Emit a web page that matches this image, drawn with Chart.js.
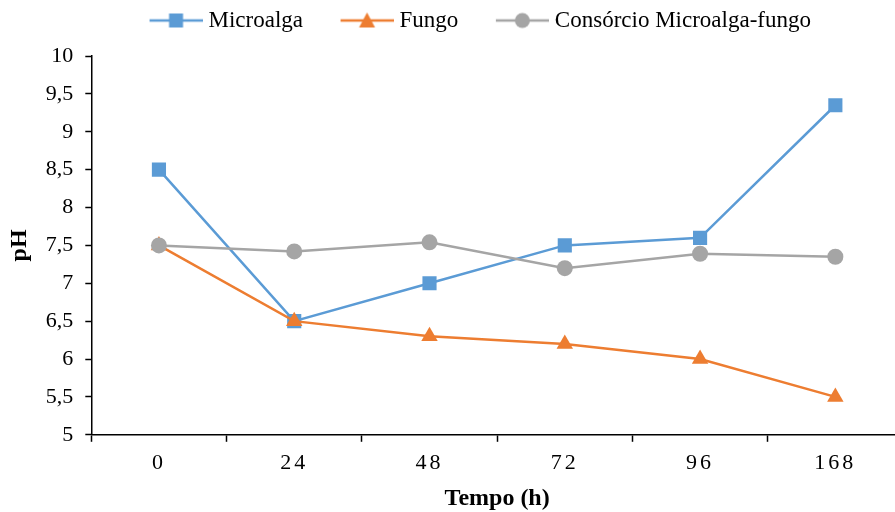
<!DOCTYPE html>
<html>
<head>
<meta charset="utf-8">
<script src="https://cdn.jsdelivr.net/npm/chart.js@4"></script>
<style>
  html, body { margin: 0; padding: 0; background: #fff; overflow: hidden; }
  #chart { display: block; }
</style>
</head>
<body>
<canvas id="chart" width="913" height="512"></canvas>
<script>
// pH over time for the three cultures
var tempos = ['0', '24', '48', '72', '96', '168'];
var microalga = [8.5, 6.5, 7.0, 7.5, 7.6, 9.35];
var fungo = [7.5, 6.5, 6.3, 6.2, 6.0, 5.5];
var consorcio = [7.5, 7.42, 7.54, 7.2, 7.39, 7.35];

var azul = '#5B9BD5';
var laranja = '#ED7D31';
var cinza = '#A5A5A5';
var fonte = '"Liberation Serif", "Times New Roman", serif';

// legend picture: empty lead-in, then a short line with the marker on it
var ICON_W = 87, ICON_H = 18;
function legendIcon(color, style) {
    var c = document.createElement('canvas');
    c.width = ICON_W; c.height = ICON_H;
    var ctx = c.getContext('2d');
    ctx.strokeStyle = color;
    ctx.lineWidth = 2.5;
    ctx.beginPath();
    ctx.moveTo(34, 9); ctx.lineTo(87, 9);
    ctx.stroke();
    ctx.fillStyle = color;
    ctx.beginPath();
    var cx = 60.5;
    if (style === 'rect') {
        ctx.rect(cx - 7, 2, 14, 14);
    } else if (style === 'triangle') {
        ctx.moveTo(cx, 1); ctx.lineTo(cx + 8, 16); ctx.lineTo(cx - 8, 16); ctx.closePath();
    } else {
        ctx.arc(cx, 9, 7.5, 0, Math.PI * 2);
    }
    ctx.fill();
    return c;
}

// later series are painted over earlier ones
function serie(label, data, color, style, radius, order) {
    return {
        label: label,
        data: data,
        order: order,
        borderColor: color,
        backgroundColor: color,
        borderWidth: 2.5,
        pointStyle: style,
        pointRadius: radius,
        pointHoverRadius: radius,
        pointBorderWidth: 0,
        tension: 0,
        icon: legendIcon(color, style)
    };
}

// wider letter spacing on the time labels
var espacamento = {
    id: 'espacamento',
    beforeDraw: function(chart) {
        var s = chart.scales.x;
        if (s._espaco) return;
        var orig = s.drawLabels;
        s.drawLabels = function(area) {
            var c = this.ctx;
            c.save();
            c.letterSpacing = '3px';
            orig.call(this, area);
            c.restore();
        };
        s._espaco = true;
    }
};

// more room under the legend, and nudge it a little to the right
var legendaAjuste = {
    id: 'legendaAjuste',
    beforeInit: function(chart) {
        var fitOrig = chart.legend.fit;
        chart.legend.fit = function() {
            fitOrig.bind(chart.legend)();
            this.height += 14;
        };
    },
    afterLayout: function(chart) {
        chart.legend.left += 9;
        chart.legend.right += 9;
    }
};

var ctx = document.getElementById('chart').getContext('2d');
new Chart(ctx, {
    type: 'line',
    data: {
        labels: tempos,
        datasets: [
            serie('Microalga', microalga, azul, 'rect', 10, 3),
            serie('Fungo', fungo, laranja, 'triangle', 9.5, 2),
            serie('Consórcio Microalga-fungo', consorcio, cinza, 'circle', 8, 1)
        ]
    },
    plugins: [espacamento, legendaAjuste],
    options: {
        responsive: false,
        animation: false,
        layout: { padding: { top: 0, left: 1, right: 0, bottom: -1 } },
        plugins: {
            tooltip: { enabled: false },
            legend: {
                position: 'top',
                align: 'center',
                labels: {
                    usePointStyle: true,
                    pointStyleWidth: 76,
                    boxHeight: 18,
                    padding: 9,
                    color: '#000',
                    font: { family: fonte, size: 23 },
                    generateLabels: function(chart) {
                        return chart.data.datasets.map(function(ds, i) {
                            return {
                                text: ds.label,
                                pointStyle: ds.icon,
                                fillStyle: ds.borderColor,
                                strokeStyle: ds.borderColor,
                                lineWidth: 0,
                                hidden: false,
                                datasetIndex: i
                            };
                        });
                    }
                }
            }
        },
        scales: {
            x: {
                offset: true,
                grid: {
                    offset: true,
                    drawOnChartArea: false,
                    drawTicks: true,
                    tickLength: 7,
                    tickWidth: 1.5,
                    color: '#000'
                },
                border: { color: '#000', width: 1.5 },
                ticks: {
                    color: '#000',
                    padding: 8,
                    font: { family: fonte, size: 22 }
                },
                title: {
                    display: true,
                    text: 'Tempo (h)',
                    color: '#000',
                    font: { family: fonte, size: 24, weight: 'bold' },
                    padding: { top: 0, bottom: 0 }
                }
            },
            y: {
                min: 5,
                max: 10,
                grid: {
                    drawOnChartArea: false,
                    drawTicks: true,
                    tickLength: 6,
                    tickWidth: 1.5,
                    color: '#000'
                },
                border: { color: '#000', width: 1.5 },
                ticks: {
                    stepSize: 0.5,
                    color: '#000',
                    padding: 12,
                    font: { family: fonte, size: 22 },
                    callback: function(v) { return String(v).replace('.', ','); }
                },
                title: {
                    display: true,
                    text: 'pH',
                    color: '#000',
                    font: { family: fonte, size: 24, weight: 'bold' },
                    padding: { top: 4, bottom: 0 }
                }
            }
        }
    }
});
</script>
</body>
</html>
